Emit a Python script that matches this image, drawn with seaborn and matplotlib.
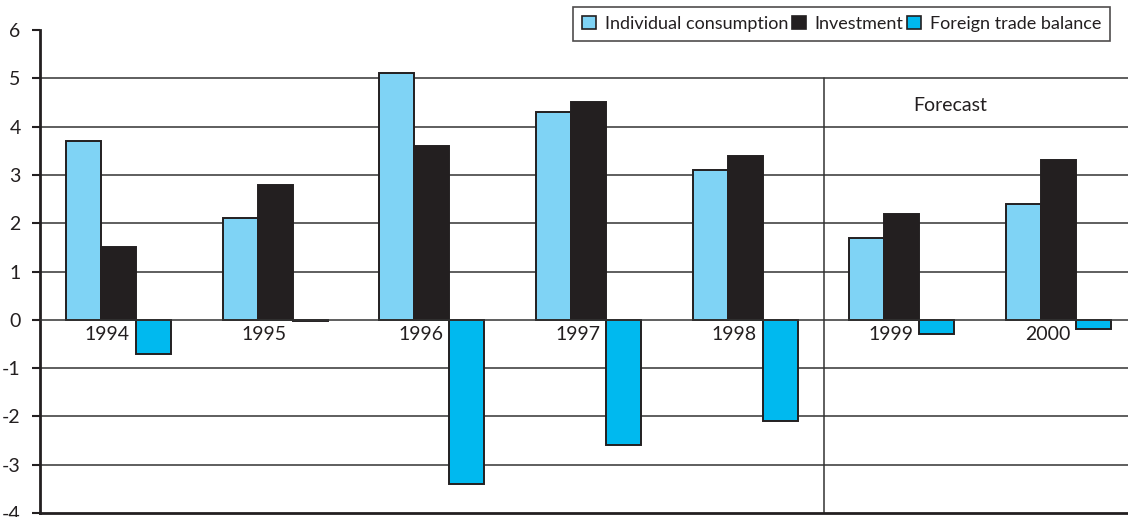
import matplotlib
matplotlib.use("Agg")
import matplotlib.pyplot as plt
import seaborn as sns
import pandas as pd
from matplotlib.patches import Patch

years = ["1994", "1995", "1996", "1997", "1998", "1999", "2000"]
series = ["Individual consumption", "Investment", "Foreign trade balance"]
consumption = [3.7, 2.1, 5.1, 4.3, 3.1, 1.7, 2.4]
investment = [1.5, 2.8, 3.6, 4.5, 3.4, 2.2, 3.3]
trade_balance = [-0.7, -0.03, -3.4, -2.6, -2.1, -0.3, -0.2]
y_ticks = [-4, -3, -2, -1, 0, 1, 2, 3, 4, 5, 6]
colors = ["#7fd3f5", "#231f20", "#00b9ef"]
edge = "#231f20"

df = pd.DataFrame({
    "year": years * 3,
    "series": [series[0]] * 7 + [series[1]] * 7 + [series[2]] * 7,
    "value": consumption + investment + trade_balance,
})

sns.set_theme(style="white")
plt.rcParams["font.family"] = ["Lato", "DejaVu Sans"]
plt.rcParams["axes.unicode_minus"] = False

fig = plt.figure(figsize=(11.28, 5.17), dpi=100)
ax = fig.add_axes([40 / 1128, 1 - 513 / 517, 1097 / 1128, 483 / 517])

# grid lines behind the bars
for v in [-3, -2, -1, 1, 2, 3, 4, 5]:
    ax.axhline(v, color="#333333", lw=1.1, zorder=0)

sns.barplot(data=df, x="year", y="value", hue="series", hue_order=series,
            order=years, palette=colors, width=0.67, edgecolor=edge,
            linewidth=1.4, saturation=1, legend=False, ax=ax, zorder=2)

ax.axhline(0, color="#333333", lw=1.1, zorder=3)
ax.set_xlim(-0.5, 6.5)
ax.set_ylim(-4, 6)
ax.set_yticks(y_ticks)
ax.set_yticklabels([str(t) for t in y_ticks])
ax.set_xticks([])
ax.set_xlabel("")
ax.set_ylabel("")
ax.tick_params(axis="y", direction="out", length=6, width=1.5, color="#231f20",
               pad=8, labelsize=14, labelcolor="#231f20", left=True)
for s in ["top", "right"]:
    ax.spines[s].set_visible(False)
ax.spines["left"].set_color("#231f20")
ax.spines["left"].set_linewidth(2)
ax.spines["bottom"].set_color("#231f20")
ax.spines["bottom"].set_linewidth(2)

# year labels just below the zero line
for i, y in enumerate(years):
    ax.text(i - 0.07, -0.12, y, ha="center", va="top", fontsize=14,
            color="#231f20", zorder=4)

# forecast separator
ax.plot([4.5, 4.5], [-4, 5], color="#333333", lw=1.1, zorder=1)
ax.text(5.31, 4.43, "Forecast", ha="center", va="center", fontsize=14,
        color="#231f20")

handles = [Patch(facecolor=c, edgecolor=edge, linewidth=1.2) for c in colors]
leg = fig.legend(handles, series, loc="upper right",
                 bbox_to_anchor=(1110 / 1128, 1 - 7 / 517), ncol=3,
                 frameon=True, fancybox=False, fontsize=13,
                 handlelength=0.75, handleheight=0.75, handletextpad=0.5,
                 columnspacing=0.2, borderpad=0.5, borderaxespad=0)
leg.get_frame().set_edgecolor("#231f20")
leg.get_frame().set_linewidth(1.2)
for t in leg.get_texts():
    t.set_color("#231f20")

fig.savefig("out.png", dpi=100)
